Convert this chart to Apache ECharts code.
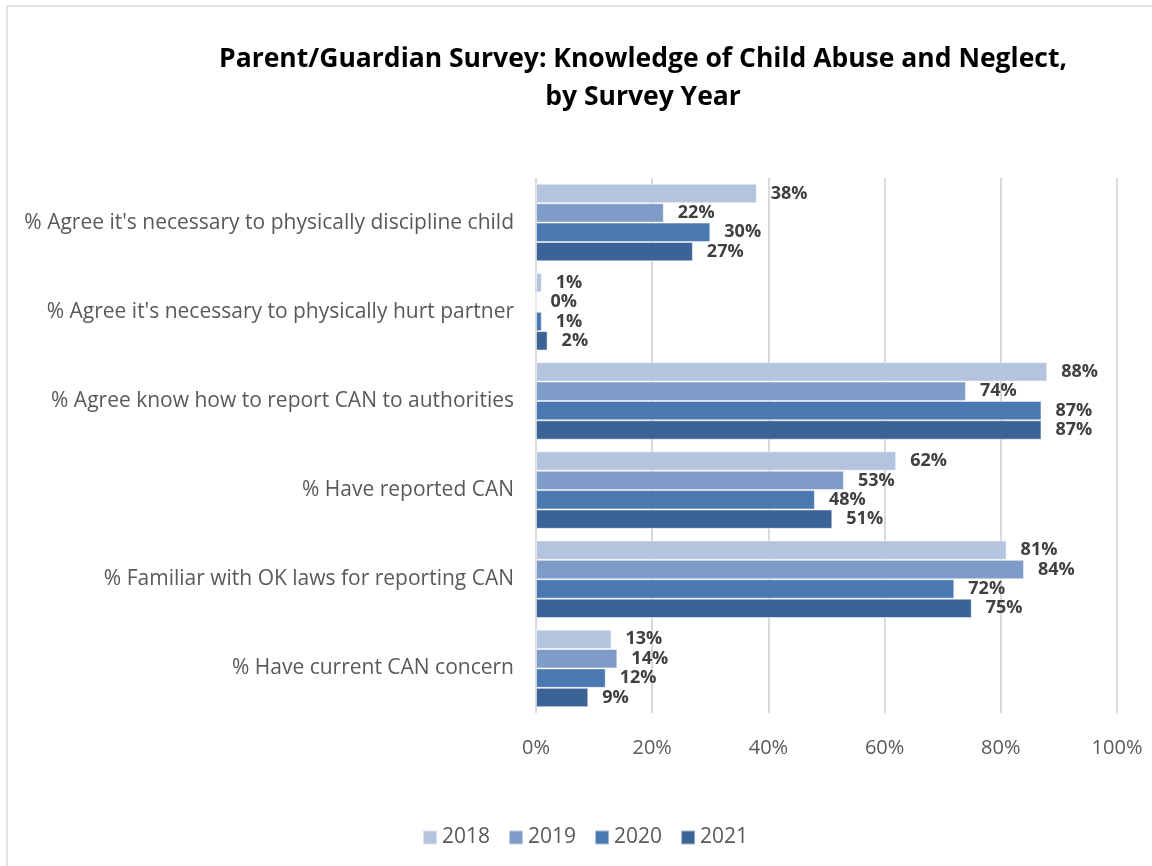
<!DOCTYPE html>
<html>
<head>
<meta charset="utf-8">
<script src="https://cdn.jsdelivr.net/npm/echarts@6/dist/echarts.min.js"></script>
<style>
html,body{margin:0;padding:0;background:#fff;}
#chart{width:1152px;height:866px;}
</style>
</head>
<body>
<div id="chart"></div>
<script>
const categories = [
  "% Agree it's necessary to physically discipline child",
  "% Agree it's necessary to physically hurt partner",
  "% Agree know how to report CAN to authorities",
  "% Have reported CAN",
  "% Familiar with OK laws for reporting CAN",
  "% Have current CAN concern"
];
const seriesNames = ["2018", "2019", "2020", "2021"];
const values2018 = [38, 1, 88, 62, 81, 13];
const values2019 = [22, 0, 74, 53, 84, 14];
const values2020 = [30, 1, 87, 48, 72, 12];
const values2021 = [27, 2, 87, 51, 75, 9];
const xTicks = [0, 20, 40, 60, 80, 100];
const colors = ["#B4C3DE", "#7F9CC9", "#4A78B1", "#3C6396"];

const allValues = [values2018, values2019, values2020, values2021];
const fontFamily = "'Open Sans', 'Liberation Sans', Arial, sans-serif";

const chart = echarts.init(document.getElementById('chart'), null, {renderer: 'canvas'});
chart.setOption({
  animation: false,
  backgroundColor: '#fff',
  color: colors,
  title: {
    text: 'Parent/Guardian Survey: Knowledge of Child Abuse and Neglect,\nby Survey Year',
    left: 638,
    textAlign: 'center',
    top: 35,
    textStyle: {fontFamily: fontFamily, fontSize: 26.5, fontWeight: 'bold', color: '#000', lineHeight: 38}
  },
  legend: {
    data: seriesNames,
    bottom: 13,
    left: 417,
    itemWidth: 14,
    itemHeight: 14,
    itemGap: 18,
    icon: 'rect',
    textStyle: {fontFamily: fontFamily, fontSize: 21, color: '#595959'}
  },
  grid: {left: 536, right: 35, top: 178, bottom: 153, containLabel: false},
  xAxis: {
    type: 'value',
    min: xTicks[0],
    max: xTicks[xTicks.length - 1],
    interval: 20,
    axisLine: {show: false},
    axisTick: {show: false},
    splitLine: {show: true, lineStyle: {color: '#D9D9D9', width: 2}},
    axisLabel: {formatter: '{value}%', margin: 25, fontFamily: fontFamily, fontSize: 20, color: '#595959'}
  },
  yAxis: {
    type: 'category',
    data: categories,
    inverse: true,
    axisLine: {show: false},
    axisTick: {show: false},
    axisLabel: {margin: 22, fontFamily: fontFamily, fontSize: 21, color: '#595959'}
  },
  graphic: [
    {type: 'line', shape: {x1: 7, y1: 6, x2: 1152, y2: 6}, style: {stroke: '#D9D9D9', lineWidth: 1.5}},
    {type: 'line', shape: {x1: 7, y1: 6, x2: 7, y2: 866}, style: {stroke: '#D9D9D9', lineWidth: 1.5}}
  ],
  series: seriesNames.map((name, i) => ({
    name: name,
    type: 'bar',
    data: allValues[i],
    barGap: '0%',
    barCategoryGap: '13%',
    itemStyle: {color: colors[i], borderColor: 'rgba(255,255,255,0.5)', borderWidth: 1},
    label: {
      show: true,
      position: 'right',
      distance: 14,
      formatter: '{c}%',
      fontFamily: fontFamily,
      fontSize: 18,
      fontWeight: 'bold',
      color: '#404040'
    }
  }))
});
</script>
</body>
</html>
